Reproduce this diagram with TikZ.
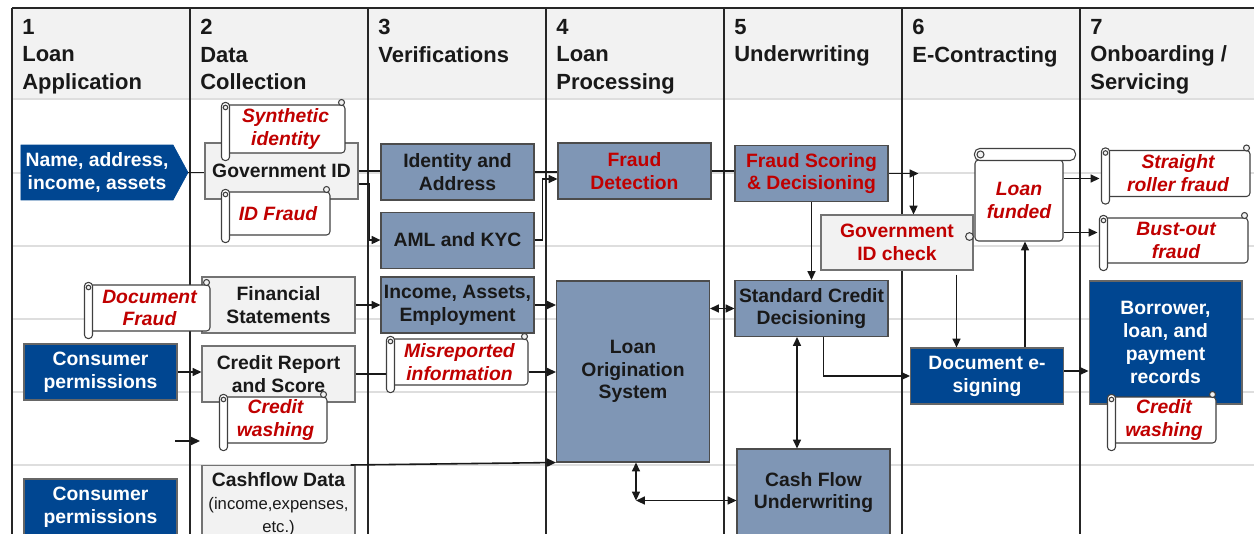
\documentclass[tikz,border=0pt]{standalone}
\usepackage{fontspec}
\setmainfont{Liberation Sans}
\usetikzlibrary{shapes.symbols, arrows.meta, positioning, calc}

\definecolor{navy}{RGB}{0,70,145}
\definecolor{slate}{RGB}{127,150,181}
\definecolor{paper}{RGB}{242,242,242}
\definecolor{fraudred}{RGB}{192,0,0}
\definecolor{rowline}{RGB}{222,222,222}

% roll on the left side of a fraud label
\newcommand{\sideroll}[1]{%
  \draw[rollpart, rounded corners=2pt] ($(#1.north west)+(-4,-2)$) rectangle ($(#1.south west)+(4,7)$);
  \draw[rollpart, fill=paper] ($(#1.north west)+(0,3)$) circle (1.3pt);
  \draw[rollpart, fill=paper] ($(#1.north east)+(-4,-2)$) circle (1.7pt);
}
% roll on top of a fraud label
\newcommand{\toproll}[1]{%
  \draw[rollpart, rounded corners=3pt] ($(#1.north west)+(0,-11)$) rectangle ($(#1.north east)+(12,1)$);
  \draw[rollpart, fill=paper] ($(#1.north west)+(6,-5)$) circle (2pt);
  \draw[rollpart, fill=paper] ($(#1.south west)+(-5,-5)$) circle (2.2pt);
}

\begin{document}
\begin{tikzpicture}[
  x=0.02cm, y=-0.02cm,
  box/.style = {
    rectangle, minimum width=3.06cm, minimum height=1.12cm,
    align=center, inner sep=1pt,
    font=\fontsize{11}{13}\selectfont\bfseries,
    line width=0.6pt
  },
  datbox/.style  = {box, fill=paper, draw=black!55, text=black!90},
  procbox/.style = {box, fill=slate, draw=black!70, text=black!90},
  userbox/.style = {box, fill=navy, draw=black!60, text=white},
  fraud/.style = {
    rectangle, rounded corners=2pt,
    draw=black!75, fill=white, text=fraudred,
    font=\fontsize{11}{13}\selectfont\bfseries\itshape,
    align=center, inner sep=1pt, line width=0.6pt
  },
  rollpart/.style = {draw=black!75, fill=white, line width=0.6pt},
  lanehead/.style = {
    anchor=north west, align=left, inner sep=0pt,
    font=\fontsize{12.5}{15.6}\selectfont\bfseries, text=black!90
  },
  gridline/.style = {draw=black!85, line width=0.6pt},
  arrow/.style  = {-{Triangle[length=5pt, width=4.5pt]}, line width=0.9pt, black!90},
  twoway/.style = {{Triangle[length=5pt, width=4.5pt]}-{Triangle[length=5pt, width=4.5pt]}, line width=0.9pt, black!90},
  link/.style   = {line width=0.9pt, black!90}
]
\useasboundingbox (0,0) rectangle (1254,534);
\clip (0,0) rectangle (1254,534);

%--- SWIMLANES ---
\fill[paper] (12,8) rectangle (1254,99);
\foreach \y in {99,173,246,319,392,465}
  \draw[rowline, line width=0.6pt] (12,\y) -- (1254,\y);
\foreach \x in {12,190,368,546,724,902,1080}
  \draw[gridline] (\x,8) -- (\x,534);
\draw[gridline, line width=0.9pt] (12,8) -- (1254,8);

\foreach \x/\t [count=\i] in {22/{1\\Loan\\Application}, 200/{2\\Data\\Collection},
    378/{3\\Verifications}, 556/{4\\Loan\\Processing}, 734/{5\\Underwriting},
    912/{6\\E-Contracting}, 1090/{7\\Onboarding /\\Servicing}}
  \node[lanehead] (lane\i) at (\x,19) {\t};

%--- LANE 1: LOAN APPLICATION ---
\node[signal, signal to=east, signal pointer angle=123,
      fill=navy, draw=navy, text=white, align=center, inner sep=1pt,
      font=\fontsize{11}{13}\selectfont\bfseries,
      minimum width=3.34cm, minimum height=1.1cm] (name) at (97,172.5) {Name, address,\\income, assets};
\node[userbox] (consumerA) at (100.5,372) {Consumer\\permissions};
\node[userbox] (consumerB) at (100.5,507) {Consumer\\permissions};

%--- LANE 2: DATA COLLECTION ---
\node[datbox] (govid)   at (281.5,171) {Government ID};
\node[datbox] (finstat) at (278.5,305) {Financial\\Statements};
\node[datbox] (credrep) at (278.5,374) {Credit Report\\and Score};
\node[datbox, anchor=north, inner xsep=3pt, inner ysep=4pt] (cashflow) at (278.5,465)
  {Cashflow Data\\\mdseries\fontsize{9.5}{10.5}\selectfont (income,expenses,\\\mdseries\fontsize{9.5}{10.5}\selectfont etc.)};

%--- LANE 3: VERIFICATIONS ---
\node[procbox] (identity) at (457.5,172) {Identity and\\Address};
\node[procbox, below=0.22cm of identity] (aml) {AML and KYC};
\node[procbox] (income) at (457.5,305) {Income, Assets,\\Employment};

%--- LANE 4: LOAN PROCESSING ---
\node[procbox, text=fraudred] (frauddet) at (634.5,171) {Fraud\\Detection};
\node[procbox, minimum height=3.62cm] (los) at (633,371.5) {Loan\\Origination\\System};

%--- LANE 5: UNDERWRITING ---
\node[procbox, text=fraudred] (fscore) at (811.5,173.5) {Fraud Scoring\\\& Decisioning};
\node[procbox] (stdcred) at (811.5,308.5) {Standard Credit\\Decisioning};
\node[procbox, minimum height=1.74cm] (cfunder) at (813.5,492.5) {Cash Flow\\Underwriting};

%--- LANE 6: E-CONTRACTING ---
\node[datbox, text=fraudred, minimum width=3.04cm, minimum height=1.1cm] (govcheck) at (897,242.5) {Government\\ID check};
\node[userbox] (docsign) at (987,376) {Document e-\\signing};

%--- LANE 7: ONBOARDING ---
\node[userbox, minimum height=2.46cm] (records) at (1165.5,342.5) {Borrower,\\loan, and\\payment\\records};

%--- FRAUD LABELS ---
\node[fraud, minimum width=2.42cm, minimum height=0.92cm] (docfraud) at (149.5,308) {Document\\Fraud};
\sideroll{docfraud}
\node[fraud, minimum width=2.38cm, minimum height=0.96cm] (synth) at (285.5,129) {Synthetic\\identity};
\sideroll{synth}
\node[fraud, minimum width=2.08cm, minimum height=0.86cm] (idfraud) at (278,213.5) {ID Fraud};
\sideroll{idfraud}
\node[fraud, minimum width=2.06cm, minimum height=0.92cm] (washA) at (275.5,420) {Credit\\washing};
\sideroll{washA}
\node[fraud, minimum width=2.74cm, minimum height=0.92cm] (misrep) at (459.5,362) {Misreported\\information};
\sideroll{misrep}
\node[fraud, minimum width=1.76cm, minimum height=1.62cm] (funded) at (1019,200.5) {Loan\\funded};
\toproll{funded}
\node[fraud, minimum width=2.88cm, minimum height=0.92cm] (straight) at (1178,173.5) {Straight\\roller fraud};
\sideroll{straight}
\node[fraud, minimum width=2.88cm, minimum height=0.9cm] (bustout) at (1176,240.5) {Bust-out\\fraud};
\sideroll{bustout}
\node[fraud, minimum width=2.08cm, minimum height=0.92cm] (washB) at (1164,420) {Credit\\washing};
\sideroll{washB}

%--- CONNECTORS ---
\coordinate (washfrom) at (175,441);
\coordinate (washto)   at (200,441);
\coordinate (fsout)  at ($(fscore.east)+(30,0)$);
\coordinate (fsbend) at ($(fscore.east)+(25,0)$);
\coordinate (gcout)  at ($(govcheck.south east)+(-17,4)$);
\coordinate (dsup)   at ($(docsign.north)+(38,0)$);
\coordinate (scdown) at ($(stdcred.south)+(-14.5,0)$);
\coordinate (loslow) at ($(los.south)+(3,38)$);

\draw[link]  (name.east) -- (name.east -| govid.west);
\draw[link]  (govid.east) -- (govid.east -| identity.west);
\draw[arrow] ($(govid.east)+(0,13)$) -| ($(aml.west)+(-11,0)$) -- (aml.west);
\draw[link]  (identity.east) -- (identity.east -| frauddet.west);
\draw[arrow] (aml.east) -| ($(frauddet.west)+(-15,8)$) -- ($(frauddet.west)+(0,8)$);
\draw[link]  (frauddet.east) -- (frauddet.east -| fscore.west);
\draw[arrow] (fscore.east) -- (fsout);
\draw[arrow] (fsbend) -- (fsbend |- govcheck.north);
\draw[arrow] (fscore.south) -- (stdcred.north);
\draw[arrow] (gcout) -- (gcout |- docsign.north);
\draw[arrow] (dsup) -- (dsup |- funded.south);
\draw[arrow] ($(funded.east)+(0,-22)$) -- ($(funded.east -| straight.west)+(-6,-22)$);
\draw[arrow] ($(funded.east)+(0,32)$) -- ($(funded.east -| bustout.west)+(-6,32)$);
\draw[arrow] ($(stdcred.south)+(12,0)$) |- (docsign.west);
\draw[twoway] (scdown) -- (scdown |- cfunder.north);
\draw[twoway] (stdcred.west -| los.east) -- (stdcred.west);
\draw[twoway] ($(los.south)+(3,0)$) -- (loslow);
\draw[twoway] (loslow) -- (loslow -| cfunder.west);
\draw[arrow] (finstat.east) -- (income.west);
\draw[arrow] (income.east) -- (income.east -| los.west);
\draw[link]  (credrep.east) -- ($(credrep.east -| misrep.west)+(-4,0)$);
\draw[arrow] ($(misrep.east)+(0,10)$) -- ($(misrep.east -| los.west)+(0,10)$);
\draw[arrow] (consumerA.east) -- (consumerA.east -| credrep.west);
\draw[arrow] (washfrom) -- (washto);
\draw[arrow] ($(cashflow.north east)+(-5,0)$) -- (los.south west);
\draw[arrow] ($(docsign.east)+(0,-5)$) -- ($(docsign.east -| records.west)+(0,-5)$);
\end{tikzpicture}
\end{document}
